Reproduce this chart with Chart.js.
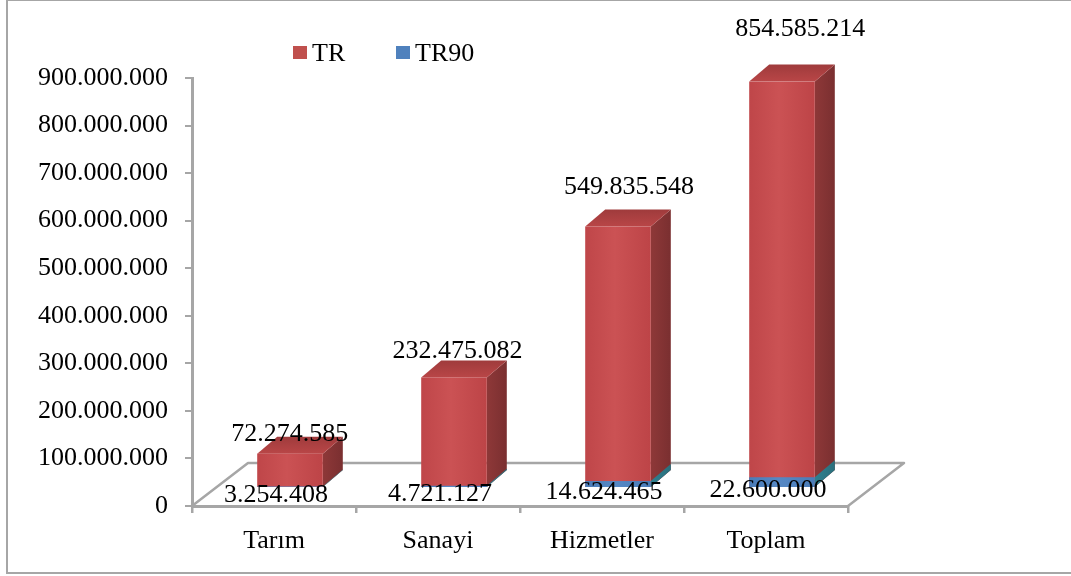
<!DOCTYPE html>
<html><head><meta charset="utf-8">
<script src="https://cdn.jsdelivr.net/npm/chart.js@4/dist/chart.umd.min.js"></script>
<style>
html,body{margin:0;padding:0;background:#fff;overflow:hidden}
#wrap{position:relative;width:1071px;height:576px}
#frame{position:absolute;left:6px;top:-1px;width:1100px;height:575px;box-sizing:border-box;border:2px solid #a6a6a6;border-right:none;pointer-events:none}
canvas{position:absolute;left:0;top:0}
</style></head><body>
<div id="wrap"><canvas id="c" width="1071" height="576"></canvas><div id="frame"></div></div>
<script>
const categories = ['Tarım', 'Sanayi', 'Hizmetler', 'Toplam'];
const seriesNames = ['TR', 'TR90'];
const trValues = [72274585, 232475082, 549835548, 854585214];
const tr90Values = [3254408, 4721127, 14624465, 22600000];
const yMin = 0, yMax = 900000000, yStep = 100000000;

const FONT = "'Liberation Serif','Times New Roman',serif";
const fmt = v => String(Math.round(v)).replace(/\B(?=(\d{3})+(?!\d))/g, '.');
const FRONT = {dx: 16, dy: -18};  // bar front position inside the 3D floor
const DEPTH = {dx: 20, dy: -17};  // bar depth
const FLOOR = {dx: 56, dy: -43};  // floor depth
const GREY = '#a6a6a6';

function drawBox(ctx, x0, x1, yTop, yBot, pal, withTop) {
  const D = DEPTH;
  let g = ctx.createLinearGradient(x1, 0, x1 + D.dx, 0);
  g.addColorStop(0, pal.side[0]); g.addColorStop(1, pal.side[1]);
  ctx.fillStyle = g;
  ctx.beginPath();
  ctx.moveTo(x1, yTop); ctx.lineTo(x1 + D.dx, yTop + D.dy);
  ctx.lineTo(x1 + D.dx, yBot + D.dy); ctx.lineTo(x1, yBot); ctx.closePath(); ctx.fill();
  if (withTop) {
    g = ctx.createLinearGradient(0, yTop + D.dy, 0, yTop);
    g.addColorStop(0, pal.top[0]); g.addColorStop(1, pal.top[1]);
    ctx.fillStyle = g;
    ctx.beginPath();
    ctx.moveTo(x0, yTop); ctx.lineTo(x0 + D.dx, yTop + D.dy);
    ctx.lineTo(x1 + D.dx, yTop + D.dy); ctx.lineTo(x1, yTop); ctx.closePath(); ctx.fill();
  }
  g = ctx.createLinearGradient(x0, 0, x1, 0);
  g.addColorStop(0, pal.front[0]); g.addColorStop(0.45, pal.front[1]); g.addColorStop(1, pal.front[2]);
  ctx.fillStyle = g;
  ctx.fillRect(x0, yTop, x1 - x0, yBot - yTop);
}

const PAL = [
  {front: ['#bf4649', '#cb5254', '#bd4447'], side: ['#8e3838', '#7a2f30'], top: ['#9f3b3c', '#b94647'], solid: '#C0504D'},
  {front: ['#4a7cb8', '#5688c4', '#4a7cb8'], side: ['#2f8090', '#2a6f7c'], top: ['#4f81bd', '#5b8fcf'], solid: '#4F81BD'}
];

const plugin3d = {
  id: 'plugin3d',
  beforeDatasetsDraw(chart) {
    const {ctx, chartArea: a} = chart;
    ctx.save();
    ctx.strokeStyle = GREY; ctx.lineWidth = 2.5; ctx.lineJoin = 'round';
    ctx.beginPath();
    ctx.moveTo(a.left, a.bottom);
    ctx.lineTo(a.left + FLOOR.dx, a.bottom + FLOOR.dy);
    ctx.lineTo(a.right + FLOOR.dx, a.bottom + FLOOR.dy);
    ctx.lineTo(a.right, a.bottom);
    ctx.stroke();
    ctx.restore();
  },
  afterDatasetsDraw(chart) {
    const {ctx} = chart;
    ctx.save();
    const m0 = chart.getDatasetMeta(0).data, m1 = chart.getDatasetMeta(1).data;
    for (let i = 0; i < m0.length; i++) {
      [m0[i], m1[i]].forEach((el, k) => {
        const p = el.getProps(['x', 'y', 'base', 'width'], true);
        const x0 = p.x - p.width / 2 + FRONT.dx, x1 = p.x + p.width / 2 + FRONT.dx;
        drawBox(ctx, x0, x1, p.y + FRONT.dy, p.base + FRONT.dy, PAL[k], k === 0);
      });
    }
    ctx.fillStyle = '#000';
    ctx.font = '26px ' + FONT;
    ctx.textAlign = 'center';
    ctx.textBaseline = 'alphabetic';
    const cap = 9;
    for (let i = 0; i < m0.length; i++) {
      const p = m0[i].getProps(['x', 'y', 'base'], true);
      const h = p.base - p.y;
      const cy = p.y - 37 - 0.088 * h;
      ctx.fillText(fmt(chart.data.datasets[0].data[i]), p.x + 14 + 0.05 * h, cy + cap);
      const q = m1[i].getProps(['x', 'y', 'base'], true);
      const cy2 = (q.y + q.base) / 2 - 12;
      ctx.fillText(fmt(chart.data.datasets[1].data[i]), q.x + 2, cy2 + cap);
    }
    ctx.restore();
  },
  afterDraw(chart) {
    const {ctx} = chart;
    ctx.save();
    ctx.font = '26px ' + FONT;
    ctx.textAlign = 'left'; ctx.textBaseline = 'alphabetic';
    const items = [[293, 312], [396, 415]];
    seriesNames.forEach((n, k) => {
      ctx.fillStyle = PAL[k].solid;
      ctx.fillRect(items[k][0], 46, 14, 13);
      ctx.fillStyle = '#000';
      ctx.fillText(n, items[k][1], 61);
    });
    ctx.restore();
  }
};

new Chart(document.getElementById('c'), {
  type: 'bar',
  data: {
    labels: categories,
    datasets: [
      {label: seriesNames[0], data: trValues, backgroundColor: 'rgba(0,0,0,0)', borderWidth: 0, grouped: false, barPercentage: 0.5, categoryPercentage: 0.8},
      {label: seriesNames[1], data: tr90Values, backgroundColor: 'rgba(0,0,0,0)', borderWidth: 0, grouped: false, barPercentage: 0.5, categoryPercentage: 0.8}
    ]
  },
  options: {
    responsive: false,
    animation: false,
    devicePixelRatio: 1,
    layout: {padding: {left: 0, top: 78, right: 223, bottom: 0}},
    plugins: {legend: {display: false}, tooltip: {enabled: false}},
    scales: {
      x: {
        grid: {display: true, drawOnChartArea: false, drawTicks: true, tickLength: 7, color: GREY, lineWidth: 2.5, offset: true},
        border: {display: true, color: GREY, width: 3},
        ticks: {font: {family: FONT, size: 26}, color: '#000', padding: 13, maxRotation: 0},
        afterFit(s) { s.height = 70; }
      },
      y: {
        min: yMin, max: yMax,
        grid: {display: true, drawOnChartArea: false, drawTicks: true, tickLength: 7, color: GREY, lineWidth: 2},
        border: {display: true, color: GREY, width: 3},
        ticks: {stepSize: yStep, callback: v => fmt(v), font: {family: FONT, size: 26}, color: '#000', padding: 17},
        afterFit(s) { s.width = 192; }
      }
    }
  },
  plugins: [plugin3d]
});
</script>
</body></html>
